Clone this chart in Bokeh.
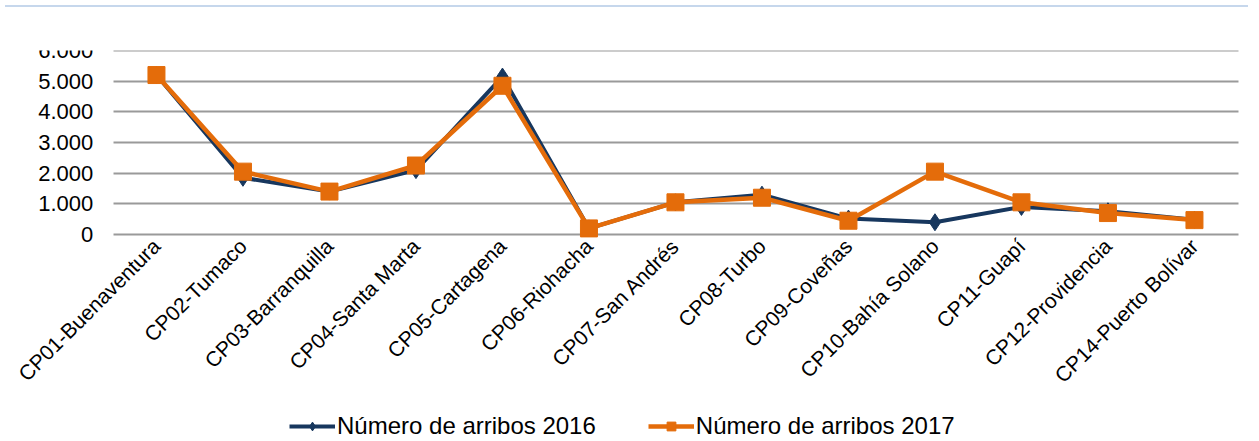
import math
from bokeh.plotting import figure
from bokeh.models import (ColumnDataSource, Range1d, FixedTicker,
                          CustomJSTickFormatter, Legend, LegendItem, Div)
from bokeh.layouts import column
from bokeh.embed import file_html
from bokeh.resources import INLINE

categories = ["CP01-Buenaventura", "CP02-Tumaco", "CP03-Barranquilla", "CP04-Santa Marta",
              "CP05-Cartagena", "CP06-Riohacha", "CP07-San Andrés", "CP08-Turbo",
              "CP09-Coveñas", "CP10-Bahía Solano", "CP11-Guapí", "CP12-Providencia",
              "CP14-Puerto Bolívar"]
arribos_2016 = [5200, 1850, 1400, 2100, 5150, 200, 1050, 1300, 520, 400, 900, 760, 480]
arribos_2017 = [5200, 2050, 1400, 2250, 4850, 200, 1050, 1200, 450, 2050, 1050, 700, 470]
y_ticks = [0, 1000, 2000, 3000, 4000, 5000, 6000]
series_names = ["Número de arribos 2016", "Número de arribos 2017"]

NAVY = "#17375E"
ORANGE = "#E46C0A"
FONT = "Liberation Sans"

idx = list(range(len(categories)))
src = ColumnDataSource(dict(x=idx, a16=arribos_2016, a17=arribos_2017))

# Frame covers the whole drawing area; axes are placed at fixed locations
# inside it so that the rotated labels and the legend are not cut off.
p = figure(x_range=Range1d(-1.78, 12.567),
           y_range=Range1d(-6650, 6000),
           frame_width=1241, frame_height=388,
           output_backend="svg", toolbar_location=None,
           min_border_left=2, min_border_right=0, min_border_top=38, min_border_bottom=0,
           background_fill_color="white", border_fill_color="white")
p.outline_line_color = None
p.xgrid.grid_line_color = None
p.ygrid.grid_line_color = None

l16 = p.line("x", "a16", source=src, line_color=NAVY, line_width=4)
m16 = p.scatter("x", "a16", source=src, marker="diamond", size=17,
                fill_color=NAVY, line_color=NAVY)
l17 = p.line("x", "a17", source=src, line_color=ORANGE, line_width=4.5)
m17 = p.scatter("x", "a17", source=src, marker="square", size=17,
                fill_color=ORANGE, line_color=ORANGE)

# y axis at the left edge of the category band; its inward ticks are the grid lines
p.yaxis.fixed_location = -0.5
p.yaxis.level = "underlay"
p.yaxis.ticker = FixedTicker(ticks=y_ticks)
p.yaxis.formatter = CustomJSTickFormatter(code="""
    return Math.round(tick).toString().replace(/\\B(?=(\\d{3})+(?!\\d))/g, '.');
""")
p.yaxis.axis_line_color = None
p.yaxis.minor_tick_line_color = None
p.yaxis.major_tick_line_color = "#9A9A9A"
p.yaxis.major_tick_line_width = 2
p.yaxis.major_tick_out = 0
p.yaxis.major_tick_in = 1125
p.yaxis.major_label_standoff = 20
p.yaxis.major_label_text_font = FONT
p.yaxis.major_label_text_font_size = "22px"
p.yaxis.major_label_text_color = "#000000"

p.xaxis.fixed_location = 0
p.xaxis.level = "underlay"
p.xaxis.ticker = FixedTicker(ticks=idx)
p.xaxis.major_label_overrides = {i: c for i, c in zip(idx, categories)}
p.xaxis.axis_line_color = None
p.xaxis.major_tick_line_color = None
p.xaxis.minor_tick_line_color = None
p.xaxis.major_tick_out = 0
p.xaxis.major_tick_in = 0
p.xaxis.major_label_orientation = math.pi / 4
p.xaxis.major_label_standoff = 8
p.xaxis.major_label_text_font = FONT
p.xaxis.major_label_text_font_size = "21px"
p.xaxis.major_label_text_color = "#000000"

legend = Legend(items=[LegendItem(label=series_names[0], renderers=[l16, m16]),
                       LegendItem(label=series_names[1], renderers=[l17, m17])],
                orientation="horizontal", location=(287, -2),
                label_text_font=FONT, label_text_font_size="24px",
                label_text_color="#000000", glyph_width=46, glyph_height=22,
                label_standoff=2, spacing=52, padding=0, margin=0,
                border_line_color=None, background_fill_alpha=0)
p.add_layout(legend, "center")

top_line = Div(text="", width=1243, height=2,
               styles={"background-color": "#C6D7EC"})
layout = column(top_line, p, spacing=0)

open("out.html", "w").write(file_html(layout, INLINE))
